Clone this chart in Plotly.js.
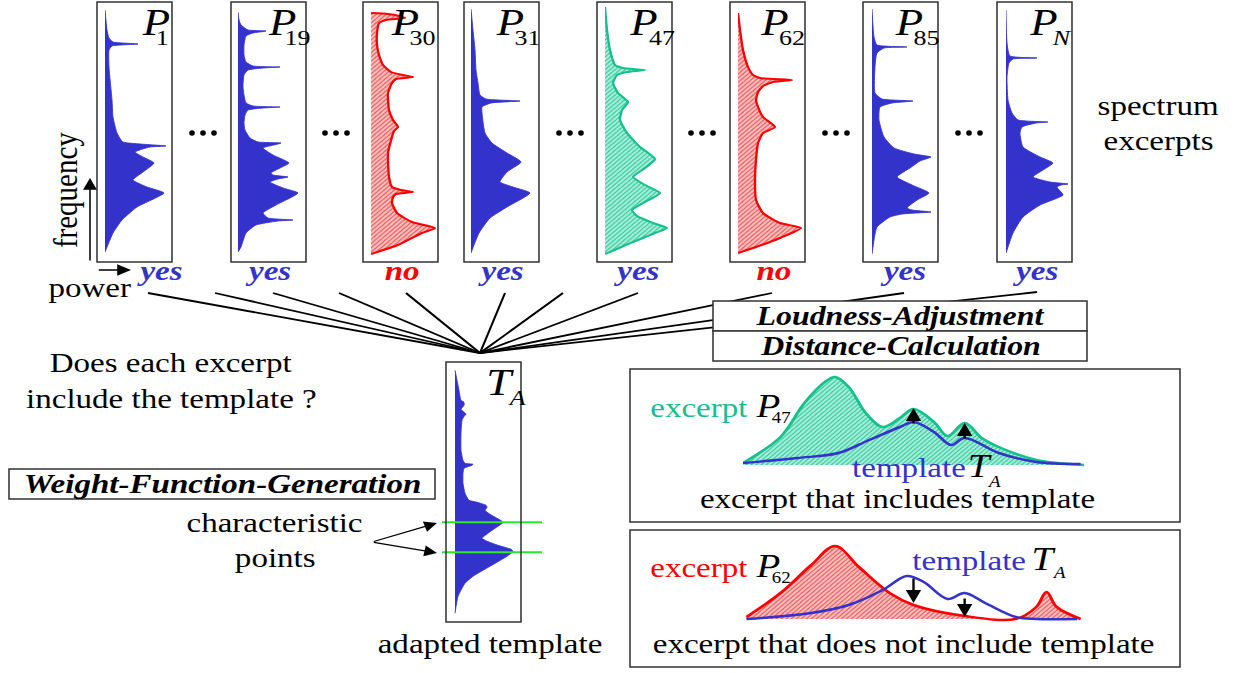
<!DOCTYPE html>
<html><head><meta charset="utf-8">
<script src="https://cdn.plot.ly/plotly-3.0.1.min.js"></script>
<style>
html,body{margin:0;padding:0;background:#fff;overflow:hidden;}
#chart{width:1049px;height:673px;transform:scaleX(1.180172);transform-origin:0 0;}
</style></head><body><div id="chart"></div>
<script>
// ---------- DATA ----------
// spectrum excerpts: power (horizontal) vs frequency bin (vertical, 0 = bottom)
const excerptNames = ['1','19','30','31','47','62','85','N'];
const excerptVerdicts = ['yes','yes','no','yes','yes','no','yes','yes'];

const p1Freq  = [0,5,19,32,45,59,65,72,80,89,95,100,105,106,108,110,119,135,152,185,202,206,208,210,214,222,242];
const p1Power = [0,2,8,17,32,59,42,28,38,49,38,30,45,61,35,18,12,8,7,4,4,7,33,8,4,2,0];

const p19Freq  = [0,5,19,27,31,32,34,39,47,59,64,70,73,75,77,79,84,89,97,104,108,109,110,114,122,129,137,142,144,145,146,149,157,165,177,182,184,185,186,190,197,207,216,219,221,222,227,232,240];
const p19Power = [0,3,8,18,40,55,30,25,38,60,45,32,40,50,35,33,42,51,35,25,40,43,20,12,7,6,7,10,25,42,15,8,6,5,6,10,25,42,15,8,6,6,8,15,28,10,3,1,0];

const p30Freq  = [-2,7,19,24,30,39,49,55,58,60,62,65,75,99,115,121,125,132,142,159,169,173,175,177,180,187,197,207,219,229,232,234,236,238,239];
const p30Power = [0,27,51,64,41,26,21,22,25,42,30,21,18,17,21,23,27,22,18,17,21,25,42,32,20,12,8,6,6,8,15,34,28,17,0];

const p31Freq  = [-1,7,19,34,45,59,65,70,80,90,99,109,119,139,145,149,151,153,157,169,182,202,222,243];
const p31Power = [0,3,8,19,36,59,42,29,36,50,36,21,14,11,11,20,49,15,9,7,5,4,2,0];

const p47Freq  = [-2,4,12,19,24,29,36,42,49,59,67,75,84,93,105,119,132,142,150,159,169,177,180,182,184,187,202,222,245];
const p47Power = [0,14,33,50,62,48,32,27,38,55,40,28,40,50,35,22,15,17,23,13,8,12,22,40,18,10,5,2,0];

const p62Freq  = [-1,5,14,24,29,39,52,72,92,109,119,125,135,145,152,160,166,170,172,174,177,185,202,222,239];
const p62Power = [0,18,42,63,42,25,18,17,18,20,25,37,25,20,18,20,25,35,54,22,15,10,5,2,0];

const p85Freq  = [-2,12,25,35,38,40,42,44,52,59,67,75,84,91,95,98,104,115,132,145,149,151,153,159,185,199,204,205,207,215,243];
const p85Power = [0,2,5,18,30,59,40,35,45,57,40,25,38,48,59,42,22,12,7,8,20,41,10,3,3,5,12,35,5,2,0];

const pNFreq  = [-1,19,35,47,57,65,67,68,70,75,82,89,95,105,119,125,129,130,132,139,152,175,189,193,194,196,209,242];
const pNPower = [0,7,17,34,57,51,55,62,44,27,37,47,34,17,14,16,30,42,12,6,2,1,3,7,31,4,1,0];

// adapted template T_A
const taFreq  = [0,17,30,37,47,57,62,64,68,72,75,80,85,91,95,99,103,106,108,111,113,120,130,140,145,148,149,150,153,163,180,193,197,199,202,204,208,211,213,223,233,243];
const taPower = [0,3,10,18,35,52,58,56,43,32,27,33,40,48,42,35,30,32,31,22,14,10,8,8,9,17,18,10,8,6,6,7,9,11,8,6,9,9,6,4,2,0];
const charPointFreq = [91, 61];

// comparison panels (frequency horizontal, power vertical)
const ex47Freq  = [0,11,18,24,27,31,36,41,46,50,56,60,65,70,75,86,100];
const ex47Power = [2,28,62,83,88,78,52,38,47,56,43,29,42,27,18,5,0];
const tpl1Freq  = [0,16,28,37,46,50,56,61,65,75,86,99];
const tpl1Power = [2,7,12,25,38,43,33,20,27,12,3,1];
const ex62Freq  = [1,11,20,27,34,43,50,65,80,86,89,92,99];
const ex62Power = [2,26,54,73,52,26,14,3,0,12,27,12,0];
const tpl2Freq  = [1,20,31,41,48,53,60,65,71,80,86,98];
const tpl2Power = [0,6,14,29,43,37,20,26,16,2,0,0];
const upArrowFreq = [50, 65], upArrowFrom = [40, 25], upArrowTo = [57, 42];
const downArrowFreq = [50, 65], downArrowFrom = [42, 22], downArrowTo = [16, 2];

// ---------- LAYOUT / STYLE ----------
const W = 1238, H = 673;
const SERIF = "'Liberation Serif','Times New Roman',serif";
const BLUE = '#3333cc', RED = '#ff0000', TEAL = '#16c08c';
const excerptSeries = [[p1Freq,p1Power],[p19Freq,p19Power],[p30Freq,p30Power],[p31Freq,p31Power],
                       [p47Freq,p47Power],[p62Freq,p62Power],[p85Freq,p85Power],[pNFreq,pNPower]];
const excerptStyle = ['blue','blue','red','blue','teal','red','blue','blue'];
const boxLeft = [97,231,363,464,597,730,863,997];
const baseOffset = [8,7,8,7,8,8,9,9];
const verdictX = [160,268,403,501,637,774,903,1036];
const pLeft = [139,266,388,493,627,758,892,1027];
const subLeft = [154,282,407,512,647,777,911,1049];
const dotCenters = [203,336,570,702,836,969];
const connectorTops = [[148,293],[215,293],[273,293],[339,293],[406,293],[505,293],[563,293],[638,293],[772,293],[904,293],[1037,292]];
const hub = [480,353];

const layout = {
  width:1049, height:673, margin:{l:0,r:0,t:0,b:0},
  paper_bgcolor:'#ffffff', plot_bgcolor:'rgba(0,0,0,0)', showlegend:false,
  xaxis:{range:[0,W], domain:[0,1], visible:false, fixedrange:true},
  yaxis:{range:[H,0], domain:[0,1], visible:false, fixedrange:true},
  shapes:[], annotations:[]
};
function addAxes(k, x0, x1, xr, yb, yt, yr){
  layout['xaxis'+k] = {domain:[x0/W, x1/W], range:xr, visible:false, fixedrange:true, anchor:'y'+k};
  layout['yaxis'+k] = {domain:[1-yb/H, 1-yt/H], range:yr, visible:false, fixedrange:true, anchor:'x'+k};
}
function fillStyle(kind){
  if (kind === 'blue') return {line:{color:BLUE,width:0.8,shape:'spline',smoothing:0.5}, fillcolor:BLUE};
  if (kind === 'red') return {line:{color:RED,width:2,shape:'spline',smoothing:0.5}, fillcolor:'#f8a0a0',
      fillpattern:{shape:'/', fgcolor:'#f05050', bgcolor:'#fbc4c4', size:3, solidity:0.35}};
  return {line:{color:TEAL,width:2,shape:'spline',smoothing:0.5}, fillcolor:'#8fe3c9',
      fillpattern:{shape:'/', fgcolor:'#2fc898', bgcolor:'#aaf0da', size:3, solidity:0.35}};
}
const traces = [];
excerptSeries.forEach((s,i)=>{
  const k = i+2, bx = boxLeft[i]+baseOffset[i];
  addAxes(k, bx, bx+66, [0,66], 256, 6, [-4,246]);
  traces.push(Object.assign({x:s[1], y:s[0], xaxis:'x'+k, yaxis:'y'+k, mode:'lines', fill:'tozerox', hoverinfo:'skip'}, fillStyle(excerptStyle[i])));
});
// template
addAxes(10, 442, 542, [-13,87], 617.3, 367.3, [-4,246]);
traces.push(Object.assign({x:taPower, y:taFreq, xaxis:'x10', yaxis:'y10', mode:'lines', fill:'tozerox', hoverinfo:'skip'}, fillStyle('blue')));
charPointFreq.forEach(f=>{
  traces.push({x:[-13,87], y:[f,f], xaxis:'x10', yaxis:'y10', mode:'lines', line:{color:'#22ee22',width:2}, hoverinfo:'skip'});
});
// panels
addAxes(11, 743, 1084, [0,100], 470, 370, [-5,95]);
addAxes(12, 743, 1084, [0,100], 624, 524, [-5,95]);
traces.push({x:ex47Freq, y:ex47Power, xaxis:'x11', yaxis:'y11', mode:'lines', fill:'tozeroy', line:{color:TEAL,width:2.5,shape:'spline',smoothing:1}, fillcolor:'#8fe3c9', fillpattern:{shape:'/', fgcolor:'#2fc898', bgcolor:'#aaf0da', size:3, solidity:0.35}, hoverinfo:'skip'});
traces.push({x:tpl1Freq, y:tpl1Power, xaxis:'x11', yaxis:'y11', mode:'lines', line:{color:BLUE,width:2.5,shape:'spline',smoothing:1}, hoverinfo:'skip'});
traces.push({x:ex62Freq, y:ex62Power, xaxis:'x12', yaxis:'y12', mode:'lines', fill:'tozeroy', line:{color:RED,width:2.5,shape:'spline',smoothing:1}, fillcolor:'#f8a0a0', fillpattern:{shape:'/', fgcolor:'#f05050', bgcolor:'#fbc4c4', size:3, solidity:0.35}, hoverinfo:'skip'});
traces.push({x:tpl2Freq, y:tpl2Power, xaxis:'x12', yaxis:'y12', mode:'lines', line:{color:BLUE,width:2.5,shape:'spline',smoothing:1}, hoverinfo:'skip'});

// ---------- SHAPES ----------
const S = layout.shapes;
connectorTops.forEach(t=>S.push({type:'line', xref:'x', yref:'y', x0:t[0], y0:t[1], x1:hub[0], y1:hub[1], line:{color:'#000',width:1.8}}));
const box = (x0,y0,x1,y1,fill,w)=>S.push({type:'rect', xref:'x', yref:'y', x0, y0, x1, y1, line:{color:'#333',width:w||1.3}, fillcolor:fill||'rgba(0,0,0,0)'});
boxLeft.forEach(l=>box(l,2,l+75,262));
box(446,362,521,622);
box(713,301,1087,331,'#fff');
box(713,331,1087,361,'#fff');
box(9,469,435,499,'#fff');
box(630,369,1180,522);
box(630,530,1180,667);
dotCenters.forEach(c=>[-11,0,11].forEach(d=>S.push({type:'circle', xref:'x', yref:'y', x0:c+d-2.8, x1:c+d+2.8, y0:130.2, y1:135.8, fillcolor:'#000', line:{width:0}})));

// ---------- TEXT ----------
const A = layout.annotations;
function txt(x,y,text,size,opt){
  opt = opt||{};
  A.push({xref:'x', yref:'y', x, y, text, showarrow:false, xanchor:opt.xanchor||'center', yanchor:'middle',
    textangle:opt.angle||0, font:{family:SERIF, size, color:opt.color||'#000'}});
}
excerptNames.forEach((n,i)=>{
  txt(pLeft[i], 22, '<i>P</i>', 38, {xanchor:'left'});
  txt(subLeft[i], 37, n==='N' ? '<i>N</i>' : n, 22, {xanchor:'left'});
  const v = excerptVerdicts[i];
  txt(verdictX[i], 270.5, '<b><i>'+v+'</i></b>', 28, {color: v==='yes'?BLUE:RED});
});
txt(1158, 105.5, 'spectrum', 28);
txt(1158, 140.5, 'excerpts', 28);
txt(65, 190, 'frequency', 29, {angle:-90});
txt(90, 287.5, 'power', 28);
txt(900, 315.5, '<b><i>Loudness-Adjustment</i></b>', 27);
txt(900, 345.5, '<b><i>Distance-Calculation</i></b>', 27);
txt(170, 362.5, 'Does each excerpt', 28);
txt(171, 398.5, 'include the template ?', 28);
txt(222, 483.5, '<b><i>Weight-Function-Generation</i></b>', 28);
txt(274, 522.5, 'characteristic', 28);
txt(275, 557.5, 'points', 28);
txt(484, 382, '<i>T</i>', 38, {xanchor:'left'});
txt(505, 397.5, '<i>A</i>', 22, {xanchor:'left'});
txt(490, 643.5, 'adapted template', 28);
// panel 1
txt(648, 407.5, 'excerpt', 28, {xanchor:'left', color:TEAL});
txt(753, 405.8, '<i>P</i>', 33, {xanchor:'left'});
txt(770, 417.6, '47', 16, {xanchor:'left'});
txt(850, 467.5, 'template', 28, {xanchor:'left', color:BLUE});
txt(965, 465.8, '<i>T</i>', 33, {xanchor:'left'});
txt(985, 481.6, '<i>A</i>', 16, {xanchor:'left'});
txt(898, 498.5, 'excerpt that includes template', 28);
// panel 2
txt(648, 567.5, 'excerpt', 28, {xanchor:'left', color:RED});
txt(753, 565.8, '<i>P</i>', 33, {xanchor:'left'});
txt(770, 577.6, '62', 16, {xanchor:'left'});
txt(910, 560.5, 'template', 28, {xanchor:'left', color:BLUE});
txt(1029, 558.8, '<i>T</i>', 33, {xanchor:'left'});
txt(1050, 572.6, '<i>A</i>', 16, {xanchor:'left'});
txt(903, 643.5, 'excerpt that does not include template', 28);

// ---------- ARROWS ----------
function arrow(xref,yref,x,y,ax,ay,w,size){
  A.push({xref, yref, axref:xref, ayref:yref, x, y, ax, ay, text:'', showarrow:true,
    arrowhead:2, arrowwidth:w, arrowsize:size, arrowcolor:'#000', standoff:0, startstandoff:0});
}
arrow('x','y',90,178,90,262,1.3,1.8);
arrow('x','y',131,270,97,270,1.3,1.8);
arrow('x','y',437,523,372,542,1.2,1.8);
arrow('x','y',437,553,372,542,1.2,1.8);
upArrowFreq.forEach((f,i)=>arrow('x11','y11',f,upArrowTo[i],f,upArrowFrom[i],2,1.3));
downArrowFreq.forEach((f,i)=>arrow('x12','y12',f,downArrowTo[i],f,downArrowFrom[i],2,1.3));

Plotly.newPlot('chart', traces, layout, {staticPlot:true, displayModeBar:false});
</script></body></html>
